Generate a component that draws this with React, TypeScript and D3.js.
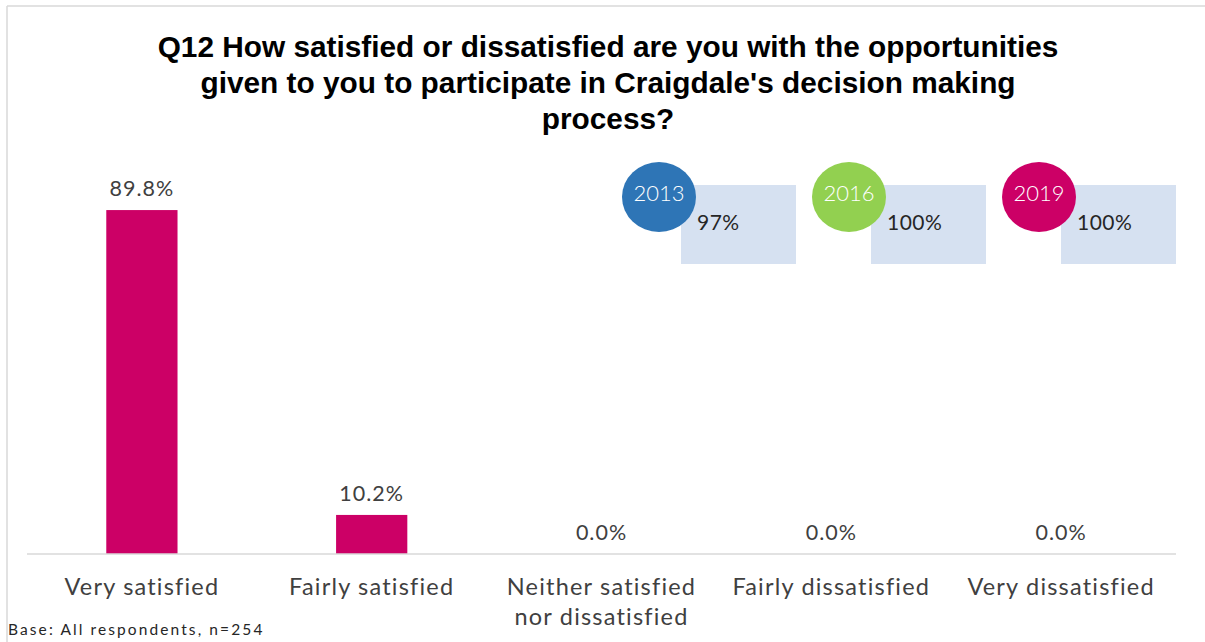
import React from "react";
import * as d3 from "d3";

const categories = ["Very satisfied", "Fairly satisfied", "Neither satisfied\nnor dissatisfied", "Fairly dissatisfied", "Very dissatisfied"];
const values = [89.8, 10.2, 0.0, 0.0, 0.0];
const badgeYears = ["2013", "2016", "2019"];
const badgeValues = ["97%", "100%", "100%"];
const badgeColors = ["#2E75B6", "#92D050", "#CC0066"];
const titleLines = [
  "Q12 How satisfied or dissatisfied are you with the opportunities",
  "given to you to participate in Craigdale's decision making",
  "process?",
];
const baseNote = "Base: All respondents, n=254";

const W = 1205;
const H = 642;
const FONT = "Lato, 'Open Sans', sans-serif";

export default function App() {
  const x = d3.scaleBand<string>().domain(categories).range([27, 1176]).paddingInner(0.69).paddingOuter(0.345);
  const y = d3.scaleLinear().domain([0, 100]).range([554, 171]);
  const bx = d3.scalePoint<string>().domain(badgeYears).range([659, 1039]);

  return (
    <svg width={W} height={H} style={{ position: "absolute", left: 0, top: 0, background: "#fff" }}>
      <line x1={7} y1={6} x2={W} y2={6} stroke="#d9d9d9" strokeWidth={1.5} />
      <line x1={7} y1={6} x2={7} y2={H} stroke="#d9d9d9" strokeWidth={1.5} />
      {titleLines.map((t, i) => (
        <text key={i} x={608} y={57 + i * 36} textAnchor="middle" fontFamily="'Liberation Sans Narrow', 'Liberation Sans', Arial, sans-serif" fontWeight="bold" fontSize={29.8} fill="#000">
          {t}
        </text>
      ))}
      {categories.map((c, i) => {
        const v = values[i];
        const bw = x.bandwidth();
        const cx = (x(c) as number) + bw / 2;
        return (
          <g key={c}>
            {v > 0 && <rect x={x(c)} y={y(v)} width={bw} height={y(0) - y(v)} fill="#CC0066" />}
            <text x={cx} y={y(v) - 14} textAnchor="middle" fontFamily={FONT} fontSize={21.5} letterSpacing={1} fill="#404040">
              {v.toFixed(1) + "%"}
            </text>
            {c.split("\n").map((ln, j) => (
              <text key={j} x={cx} y={595 + j * 30} textAnchor="middle" fontFamily={FONT} fontSize={23.5} letterSpacing={1.2} fill="#404040">
                {ln}
              </text>
            ))}
          </g>
        );
      })}
      <line x1={27} x2={1176} y1={y(0)} y2={y(0)} stroke="#d9d9d9" strokeWidth={1.5} />
      {badgeYears.map((yr, i) => {
        const cx = bx(yr) as number;
        return (
          <g key={yr}>
            <rect x={cx + 22} y={185} width={115} height={79} fill="#D6E1F1" />
            <ellipse cx={cx} cy={197} rx={37} ry={35} fill={badgeColors[i]} />
            <text x={cx} y={201} textAnchor="middle" fontFamily={FONT} fontSize={22} fontWeight={300} fill="#fff">
              {yr}
            </text>
            <text x={cx + 38} y={230} fontFamily={FONT} fontSize={21} letterSpacing={0.5} fill="#262626">
              {badgeValues[i]}
            </text>
          </g>
        );
      })}
      <text x={8} y={635} fontFamily={FONT} fontSize={15.5} letterSpacing={2.1} fill="#262626">
        {baseNote}
      </text>
    </svg>
  );
}
